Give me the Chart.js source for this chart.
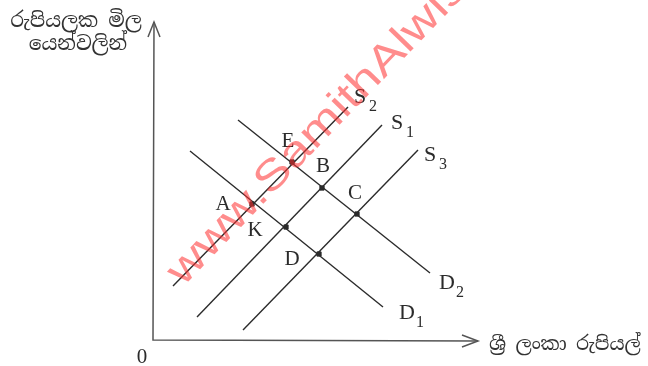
<!DOCTYPE html>
<html>
<head>
<meta charset="utf-8">
<script src="https://cdn.jsdelivr.net/npm/chart.js@4.4.0/dist/chart.umd.min.js"></script>
<style>
  body { margin: 0; background: #fff; }
  #wrap { width: 648px; height: 366px; position: relative; }
</style>
</head>
<body>
<div id="wrap"><canvas id="chart" width="648" height="366"></canvas></div>
<script>
// curves: supply S2, S1, S3 and demand D2, D1 (axis units, origin at 0)
const curveNames = ['S', 'S', 'S', 'D', 'D']
const curveSubs = ['2', '1', '3', '2', '1']
const curveStartX = [20, 44, 90, 85, 37]
const curveStartY = [54, 23, 10, 220, 189]
const curveEndX = [195, 229, 265, 277, 230]
const curveEndY = [233, 215, 190, 67, 33]

// equilibrium points
const pointNames = ['E', 'B', 'A', 'K', 'C', 'D']
const pointX = [139, 169, 99, 133, 204, 166]
const pointY = [178, 152, 136, 113, 126, 86]

const yTitle = ['රුපියලක මිල', 'යෙන්වලින්']
const xTitle = 'ශ්‍රී ලංකා රුපියල්'
const originLabel = '0'
const watermark = 'www.SamithAlwis.com'

const ink = '#2b2b2b'
const serif = '"Liberation Serif", "DejaVu Serif", serif'
const sinhala = '"Noto Serif Sinhala", "Noto Sans Sinhala", "Iskoola Pota", "Noto Sans", sans-serif'

const datasets = curveNames.map((n, i) => ({
    type: 'line',
    label: n + curveSubs[i],
    data: [{ x: curveStartX[i], y: curveStartY[i] }, { x: curveEndX[i], y: curveEndY[i] }],
    borderColor: ink,
    borderWidth: 1.4,
    pointRadius: 0,
    showLine: true,
    fill: false
}))
datasets.push({
    type: 'scatter',
    label: 'points',
    data: pointX.map((x, i) => ({ x: x, y: pointY[i] })),
    backgroundColor: ink,
    borderColor: ink,
    pointStyle: 'rect',
    pointRadius: 3
})

// offsets in px for the labels
const curveLabelOffset = [[12, -10], [15, -2], [12, 5], [17, 10], [24, 6]]
const pointLabelOffset = [[-4, -21], [1, -22], [-29, 0], [-31, 3], [-2, -21], [-27, 5]]

const decor = {
    id: 'decor',
    afterDatasetsDraw(chart) {
        const { ctx, chartArea: a, scales: { x, y } } = chart
        const ox = x.getPixelForValue(0), oy = y.getPixelForValue(0)
        ctx.save()
        // axes
        ctx.strokeStyle = '#555'
        ctx.lineWidth = 1.5
        ctx.beginPath()
        ctx.moveTo(ox + 1, a.top)
        ctx.lineTo(ox, oy)
        ctx.lineTo(a.right, oy + 1)
        ctx.stroke()
        ctx.beginPath()
        ctx.moveTo(ox - 5, a.top + 15); ctx.lineTo(ox + 1, a.top); ctx.lineTo(ox + 7, a.top + 15)
        ctx.moveTo(a.right - 16, oy - 5); ctx.lineTo(a.right, oy + 1); ctx.lineTo(a.right - 16, oy + 7)
        ctx.stroke()

        ctx.fillStyle = ink
        ctx.textAlign = 'center'
        ctx.textBaseline = 'middle'
        curveNames.forEach((n, i) => {
            const px = x.getPixelForValue(curveEndX[i]) + curveLabelOffset[i][0]
            const py = y.getPixelForValue(curveEndY[i]) + curveLabelOffset[i][1]
            ctx.font = '22px ' + serif
            ctx.fillText(n, px, py)
            ctx.font = '16px ' + serif
            ctx.fillText(curveSubs[i], px + 13, py + 10)
        })
        ctx.font = '21px ' + serif
        pointNames.forEach((n, i) => {
            ctx.fillText(n, x.getPixelForValue(pointX[i]) + pointLabelOffset[i][0],
                y.getPixelForValue(pointY[i]) + pointLabelOffset[i][1])
        })
        ctx.font = '21px ' + serif
        ctx.fillText(originLabel, ox - 11, oy + 17)

        ctx.font = '20px ' + sinhala
        ctx.fillStyle = '#333'
        ctx.fillText(yTitle[0], 76, 22)
        ctx.fillText(yTitle[1], 78, 45)
        ctx.textAlign = 'left'
        ctx.font = '19px ' + sinhala
        ctx.fillText(xTitle, 489, 345)

        // watermark
        ctx.translate(183, 287)
        ctx.rotate(-46 * Math.PI / 180)
        ctx.scale(1.25, 1)
        ctx.font = '42px "Liberation Sans", Arial, sans-serif'
        ctx.fillStyle = 'rgba(255, 45, 45, 0.55)'
        ctx.textBaseline = 'alphabetic'
        ctx.fillText(watermark, 0, 0)
        ctx.restore()
    }
}

new Chart(document.getElementById('chart'), {
    type: 'scatter',
    data: { datasets: datasets },
    options: {
        responsive: false,
        animation: false,
        layout: { padding: { left: 153, right: 170, top: 22, bottom: 26 } },
        plugins: { legend: { display: false }, tooltip: { enabled: false } },
        scales: {
            x: { type: 'linear', min: 0, max: 325, display: false },
            y: { type: 'linear', min: 0, max: 318, display: false }
        }
    },
    plugins: [decor]
})
</script>
</body>
</html>
